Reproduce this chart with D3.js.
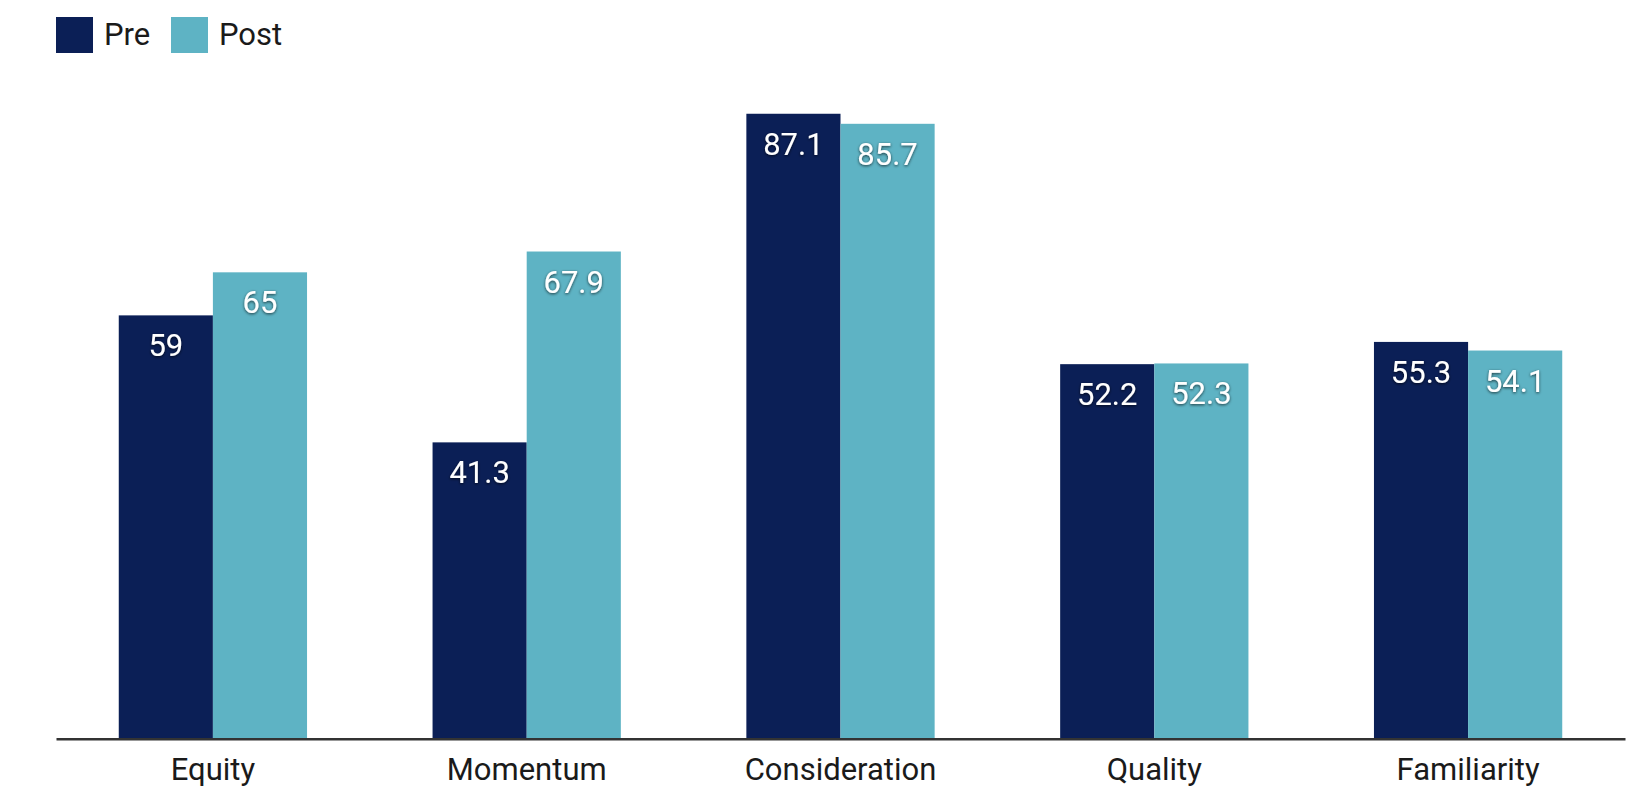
<!DOCTYPE html>
<html>
<head>
<meta charset="utf-8">
<title>Pre vs Post</title>
<style>
  body { margin: 0; background: #fff; }
  text { font-family: Roboto, "Noto Sans", sans-serif; }
</style>
</head>
<body>
<script src="https://d3js.org/d3.v7.min.js"></script>
<script>
const categories = ['Equity', 'Momentum', 'Consideration', 'Quality', 'Familiarity']
const preValues = [59, 41.3, 87.1, 52.2, 55.3]
const postValues = [65, 67.9, 85.7, 52.3, 54.1]
const seriesNames = ['Pre', 'Post']
const colors = ['#0b1f56', '#5eb3c4']

const width = 1640, height = 788
const svg = d3.select('body').append('svg')
    .attr('width', width)
    .attr('height', height)

// soft shadow behind the white value labels
const f = svg.append('defs').append('filter').attr('id', 'shadow')
    .attr('x', '-20%').attr('y', '-20%').attr('width', '140%').attr('height', '140%')
f.append('feDropShadow')
    .attr('dx', 0).attr('dy', 1).attr('stdDeviation', 1.4)
    .attr('flood-color', '#000').attr('flood-opacity', 0.7)

const x = d3.scaleBand().domain(categories).range([56, 1625])
    .paddingInner(0.4).paddingOuter(0.2)
const xs = d3.scaleBand().domain(seriesNames).range([0, x.bandwidth()])
const y = d3.scaleLinear().domain([0, 100]).range([738.7, 21.2])

const data = categories.map((c, i) => ({cat: c, vals: [preValues[i], postValues[i]]}))

const groups = svg.selectAll('g.grp').data(data).join('g')
    .attr('class', 'grp')
    .attr('transform', d => `translate(${x(d.cat)},0)`)

groups.selectAll('rect').data(d => d.vals.map((v, j) => ({v, s: seriesNames[j], c: colors[j]})))
  .join('rect')
    .attr('x', d => xs(d.s))
    .attr('width', xs.bandwidth())
    .attr('y', d => y(d.v))
    .attr('height', d => y(0) - y(d.v))
    .attr('fill', d => d.c)

groups.selectAll('text.val').data(d => d.vals.map((v, j) => ({v, s: seriesNames[j]})))
  .join('text')
    .attr('class', 'val')
    .attr('x', d => xs(d.s) + xs.bandwidth() / 2)
    .attr('y', d => y(d.v) + 41)
    .attr('text-anchor', 'middle')
    .attr('fill', '#fff')
    .attr('font-size', 31)
    .attr('filter', 'url(#shadow)')
    .text(d => d.v)

// x axis
const xaxis = d3.axisBottom(x).tickSize(0).tickPadding(19)
const ax = svg.append('g').attr('transform', `translate(0,${y(0)})`).call(xaxis)
ax.select('.domain').attr('stroke', '#333').attr('stroke-width', 2.5)
ax.selectAll('text')
    .attr('font-size', 31)
    .attr('fill', '#1a1a1a')
    .attr('font-family', 'Roboto, sans-serif')
    .attr('dy', '0.71em')

// legend
const legX = [56, 171]
const leg = svg.append('g').selectAll('g').data(seriesNames).join('g')
    .attr('transform', (d, i) => `translate(${legX[i]},17)`)
leg.append('rect')
    .attr('width', 37).attr('height', 36)
    .attr('fill', (d, i) => colors[i])
leg.append('text')
    .attr('x', 48).attr('y', 28)
    .attr('font-size', 31)
    .attr('fill', '#1a1a1a')
    .text(d => d)
</script>
</body>
</html>
